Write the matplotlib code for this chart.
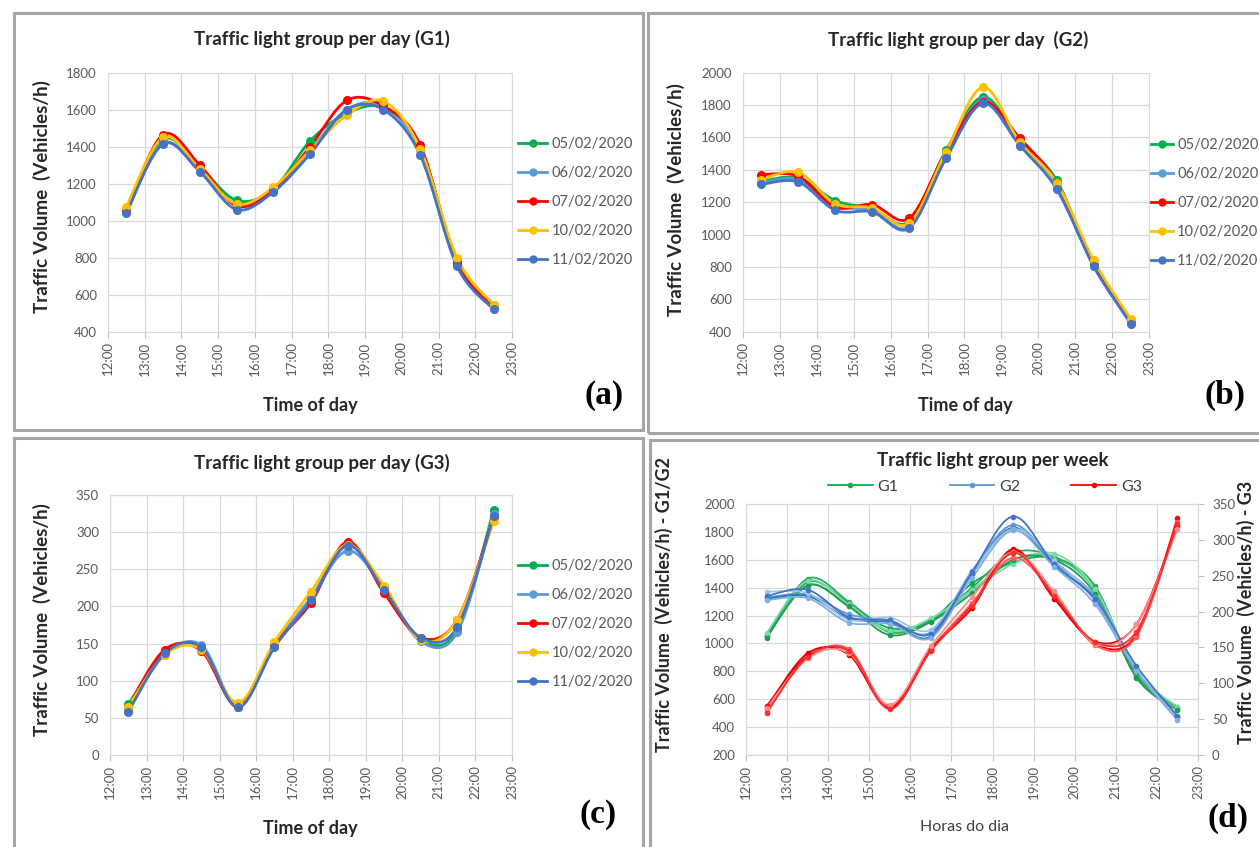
# Traffic light groups: daily volumes (G1, G2, G3) and weekly comparison
import numpy as np
from matplotlib import pyplot as plt
from matplotlib.path import Path
from matplotlib.patches import PathPatch, Rectangle
from matplotlib.lines import Line2D

plt.rcParams['font.family'] = ['Lato', 'DejaVu Sans']

## data ########################################################
hours = [12.5, 13.5, 14.5, 15.5, 16.5, 17.5, 18.5, 19.5, 20.5, 21.5, 22.5]
days = ['05/02/2020', '06/02/2020', '07/02/2020', '10/02/2020', '11/02/2020']

g1 = [
    [1050, 1440, 1290, 1110, 1170, 1430, 1580, 1610, 1400, 780, 545],
    [1060, 1420, 1270, 1090, 1160, 1380, 1600, 1620, 1380, 770, 540],
    [1050, 1465, 1300, 1080, 1165, 1400, 1650, 1620, 1410, 770, 540],
    [1075, 1450, 1280, 1090, 1180, 1380, 1570, 1645, 1390, 800, 545],
    [1040, 1415, 1265, 1060, 1155, 1360, 1600, 1600, 1355, 755, 520],
]
g2 = [
    [1330, 1350, 1210, 1160, 1080, 1520, 1850, 1580, 1335, 810, 475],
    [1320, 1340, 1180, 1150, 1050, 1500, 1830, 1560, 1310, 805, 470],
    [1370, 1360, 1170, 1185, 1100, 1510, 1820, 1595, 1320, 810, 470],
    [1340, 1385, 1190, 1165, 1070, 1510, 1910, 1570, 1320, 840, 480],
    [1310, 1325, 1150, 1140, 1040, 1470, 1810, 1550, 1280, 805, 450],
]
g3 = [
    [68, 138, 145, 67, 148, 210, 285, 222, 155, 168, 330],
    [62, 135, 148, 66, 147, 212, 275, 225, 153, 165, 325],
    [65, 142, 140, 65, 147, 205, 287, 218, 158, 182, 320],
    [65, 135, 142, 70, 152, 220, 283, 228, 155, 182, 315],
    [58, 137, 145, 64, 145, 208, 282, 222, 158, 172, 322],
]
################################################################

day_colors = ['#00b050', '#5b9bd5', '#ff0000', '#ffc000', '#4472c4']
week_colors = {
    'G1': ['#00b050', '#4cc97f', '#2fa862', '#7fd9a4', '#1e9c54'],
    'G2': ['#5b9bd5', '#2e75b6', '#9dc3e6', '#4472c4', '#7fb0e0'],
    'G3': ['#ff0000', '#ff5a5a', '#e00000', '#ff8c8c', '#ff2e2e'],
}
grid_c = '#d9d9d9'
text_c = '#595959'
dark_c = '#262626'

W, H = 1259, 847
fig = plt.figure(figsize=(W / 100, H / 100), dpi=100)


def box(x0, y0, x1, y1):
    # pixel box (top-left origin) -> figure fraction rect
    return [x0 / W, 1 - y1 / H, (x1 - x0) / W, (y1 - y0) / H]


def smooth_path(x, y):
    # Excel-like smoothed line as cubic Bezier segments
    pts = np.column_stack([x, y]).astype(float)
    n = len(pts)
    verts = [pts[0]]
    codes = [Path.MOVETO]
    for i in range(n - 1):
        p0 = pts[i - 1] if i > 0 else pts[i]
        p1, p2 = pts[i], pts[i + 1]
        p3 = pts[i + 2] if i + 2 < n else pts[i + 1]
        verts += [p1 + (p2 - p0) / 6, p2 - (p3 - p1) / 6, p2]
        codes += [Path.CURVE4] * 3
    return Path(verts, codes)


def style_axes(ax, ylo, yhi, ystep):
    ax.set_xlim(12, 23)
    ax.set_ylim(ylo, yhi)
    ax.set_xticks(range(12, 24))
    ax.set_xticklabels([f'{h}:00' for h in range(12, 24)], rotation=90)
    ax.set_yticks(np.arange(ylo, yhi + 1, ystep))
    ax.grid(True, color=grid_c, lw=0.9)
    ax.set_axisbelow(True)
    for s in ax.spines.values():
        s.set_color(grid_c)
    ax.tick_params(axis='x', length=4, color='#bfbfbf', labelsize=9.5, labelcolor=text_c, pad=3)
    ax.tick_params(axis='y', length=0, labelsize=9.5, labelcolor=text_c, pad=8)


def draw_series(ax, data, colors, lw, ms):
    for vals, c in zip(data, colors):
        ax.add_patch(PathPatch(smooth_path(hours, vals), fill=False, edgecolor=c,
                               lw=lw, capstyle='round', joinstyle='round', zorder=3))
    for vals, c in zip(data, colors):
        ax.plot(hours, vals, ls='none', marker='o', ms=ms, color=c, zorder=4)


def day_legend(x_px, y_px, hl=2.0):
    handles = [Line2D([], [], color=c, lw=2, marker='o', ms=5) for c in day_colors]
    fig.legend(handles, days, loc='upper left', bbox_to_anchor=(x_px / W, 1 - y_px / H),
               frameon=False, fontsize=10.5, labelcolor=text_c, handlelength=hl,
               handletextpad=0.3, labelspacing=1.03, borderaxespad=0, borderpad=0)


# panel frames
for x0, y0, x1, y1 in [(14, 13, 643, 430), (648, 13, 1275, 433),
                       (14, 438, 643, 860), (650, 440, 1275, 860)]:
    fig.patches.append(Rectangle((x0 / W, 1 - y1 / H), (x1 - x0) / W, (y1 - y0) / H,
                                 transform=fig.transFigure, fill=False,
                                 edgecolor='#a6a6a6', lw=2.2))

# daily panels
panels = [
    (box(108, 72.7, 512, 331.7), g1, 400, 1800, 200, 'Traffic light group per day (G1)',
     (322, 39), (310, 405), (42, 197), (604, 395), '(a)', (518, 137, 2.0)),
    (box(743, 72.7, 1149, 331.7), g2, 400, 2000, 200, 'Traffic light group per day  (G2)',
     (958, 40), (965, 405), (676, 200), (1225, 395), '(b)', (1151, 138, 1.5)),
    (box(110, 495, 512, 755), g3, 0, 350, 50, 'Traffic light group per day (G3)',
     (322, 463), (310, 828), (42, 620), (598, 814), '(c)', (518, 559, 2.0)),
]
for rect, data, ylo, yhi, ystep, title, tpos, xpos, ypos, lpos, letter, legpos in panels:
    ax = fig.add_axes(rect)
    style_axes(ax, ylo, yhi, ystep)
    draw_series(ax, data, day_colors, lw=2.0, ms=5.5)
    fig.text(tpos[0] / W, 1 - tpos[1] / H, title, ha='center', va='center',
             fontsize=13.5, fontweight='bold', color=dark_c)
    fig.text(xpos[0] / W, 1 - xpos[1] / H, 'Time of day', ha='center', va='center',
             fontsize=13, fontweight='bold', color=dark_c)
    fig.text(ypos[0] / W, 1 - ypos[1] / H, 'Traffic Volume  (Vehicles/h)', ha='center',
             va='center', rotation=90, fontsize=13.5, fontweight='bold', color=dark_c)
    fig.text(lpos[0] / W, 1 - lpos[1] / H, letter, ha='center', va='center',
             fontsize=24, fontweight='bold', family='Liberation Serif', color='black')
    day_legend(*legpos)

# weekly panel
axd = fig.add_axes(box(746, 504, 1198, 755))
style_axes(axd, 200, 2000, 200)
draw_series(axd, g1, week_colors['G1'], lw=1.3, ms=3)
draw_series(axd, g2, week_colors['G2'], lw=1.3, ms=3)
axr = axd.twinx()
axr.set_ylim(0, 350)
axr.set_yticks(np.arange(0, 351, 50))
for s in axr.spines.values():
    s.set_color(grid_c)
axr.tick_params(axis='y', length=4, color='#bfbfbf', labelsize=9.5, labelcolor=text_c, pad=6)
draw_series(axr, g3, week_colors['G3'], lw=1.3, ms=3)

fig.text(993 / W, 1 - 460 / H, 'Traffic light group per week', ha='center', va='center',
         fontsize=13.5, fontweight='bold', color=dark_c)
handles = [Line2D([], [], color=week_colors[g][0], lw=1.3, marker='o', ms=3)
           for g in ['G1', 'G2', 'G3']]
fig.legend(handles, ['G1', 'G2', 'G3'], loc='center', ncol=3,
           bbox_to_anchor=(985 / W, 1 - 487 / H), frameon=False, fontsize=11.5,
           labelcolor='#404040', handlelength=2.8, handletextpad=0.3, columnspacing=3.2)
fig.text(964 / W, 1 - 827 / H, 'Horas do dia', ha='center', va='center',
         fontsize=11.5, color='#404040')
fig.text(664 / W, 1 - 604 / H, 'Traffic Volume  (Vehicles/h) - G1/G2', ha='center',
         va='center', rotation=90, fontsize=13, fontweight='bold', color=dark_c)
fig.text(1246 / W, 1 - 612 / H, 'Traffic Volume  (Vehicles/h) - G3', ha='center',
         va='center', rotation=90, fontsize=13, fontweight='bold', color=dark_c)
fig.text(1228 / W, 1 - 818 / H, '(d)', ha='center', va='center',
         fontsize=24, fontweight='bold', family='Liberation Serif', color='black')

fig.savefig('out.png', dpi=100)
